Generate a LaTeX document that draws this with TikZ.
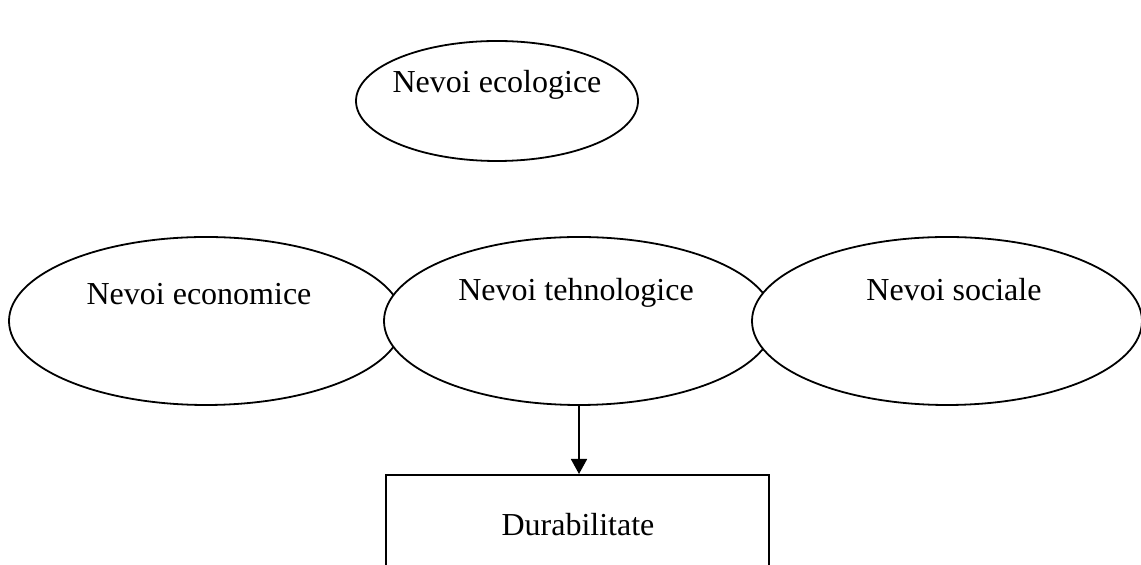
\documentclass[tikz,border=0pt]{standalone}
\usepackage{fontspec}
\setmainfont{Liberation Serif}
\usetikzlibrary{shapes.geometric,arrows.meta}
\begin{document}
\begin{tikzpicture}[x=0.5pt,y=-0.5pt,
  oval/.style={ellipse,draw,fill=white,line width=0.9pt,inner sep=0pt},
  lbl/.style={anchor=base,font=\fontsize{16}{19}\selectfont,inner sep=0pt},
  boxnode/.style={draw,line width=0.9pt,inner sep=0pt,anchor=north},
  arr/.style={-{Triangle[width=8pt,length=7.5pt]},line width=0.9pt}]
\useasboundingbox (0,0) rectangle (1141,565);
\clip (0,0) rectangle (1141,565);
% top ellipse
\node[oval,minimum width=141pt,minimum height=60pt] (ecol) at (497,101) {};
\node[lbl] (ecolt) at (497,93) {Nevoi ecologice};
% row of ellipses
\node[oval,minimum width=197pt,minimum height=84pt] (eco) at (206,321) {};
\node[oval,minimum width=195pt,minimum height=84pt] (teh) at (579,321) {};
\node[oval,minimum width=195pt,minimum height=84pt] (soc) at (947,321) {};
\node[lbl] (ecot) at (199,305) {Nevoi economice};
\node[lbl] (teht) at (576,301) {Nevoi tehnologice};
\node[lbl] (soct) at (954,301) {Nevoi sociale};
% box
\node[boxnode,minimum width=191.5pt,minimum height=60pt] (dur) at (577.5,474) {};
\node[lbl] (durt) at (578,536) {Durabilitate};
% arrow
\draw[arr] (teh.south) -- (teh.south |- dur.north);
\end{tikzpicture}
\end{document}
